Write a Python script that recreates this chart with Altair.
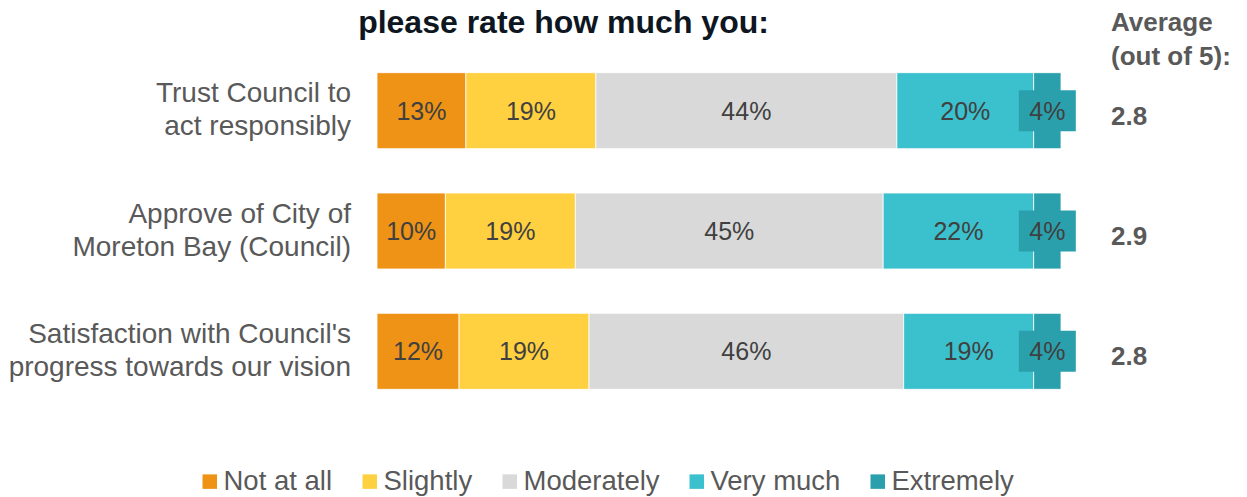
import altair as alt
import pandas as pd

# ---- data ----
categories = [
    "Trust Council to\nact responsibly",
    "Approve of City of\nMoreton Bay (Council)",
    "Satisfaction with Council's\nprogress towards our vision",
]
responses = ["Not at all", "Slightly", "Moderately", "Very much", "Extremely"]
colors = ["#EE9316", "#FFD03F", "#D9D9D9", "#3BC1CD", "#2AA0AC"]

not_at_all = [13, 10, 12]
slightly = [19, 19, 19]
moderately = [44, 45, 46]
very_much = [20, 22, 19]
extremely = [4, 4, 4]
averages = [2.8, 2.9, 2.8]

title_text = "please rate how much you:"
avg_header = "Average\n(out of 5):"

series = [not_at_all, slightly, moderately, very_much, extremely]
rows = []
for ci, cat in enumerate(categories):
    for ri, resp in enumerate(responses):
        rows.append({"cat": cat, "resp": resp, "idx": ri, "pct": series[ri][ci]})
df = pd.DataFrame(rows)
cat_df = pd.DataFrame({"cat": categories, "avg": averages})

FONT = "Liberation Sans"

x_scale = alt.Scale(domain=[0, 100])
y_enc = alt.Y("cat:N", sort=categories, axis=None,
              scale=alt.Scale(paddingInner=0.3684, paddingOuter=0.1842))

bars = alt.Chart(df).mark_bar(stroke="white", strokeWidth=0.8).encode(
    x=alt.X("pct:Q", stack="zero", scale=x_scale, axis=None),
    y=y_enc,
    color=alt.Color(
        "resp:N",
        scale=alt.Scale(domain=responses, range=colors),
        sort=responses,
        legend=alt.Legend(
            orient="none", legendX=-181, legendY=417, direction="horizontal",
            title=None, symbolType="square", symbolSize=210,
            symbolStrokeWidth=0, labelFontSize=27.5, labelColor="#595959",
            labelFont=FONT, labelOffset=0, columnPadding=23, padding=0,
            labelLimit=400,
        ),
    ),
    order=alt.Order("idx:Q"),
)

stacked = alt.Chart(df).transform_stack(
    stack="pct", groupby=["cat"], as_=["x0", "x1"], sort=[alt.SortField("idx")]
).transform_calculate(mid="(datum.x0 + datum.x1) / 2")

box = stacked.transform_filter(alt.datum.resp == "Extremely").mark_point(
    shape="M-1,-0.72L1,-0.72L1,0.72L-1,0.72Z", filled=True, size=3249,
    color="#2AA0AC", opacity=1, strokeWidth=0,
).encode(x=alt.X("mid:Q", scale=x_scale, axis=None), y=y_enc)

bar_labels = stacked.mark_text(
    font=FONT, fontSize=25, color="#404040", baseline="middle", align="center", dy=1,
).encode(
    x=alt.X("mid:Q", scale=x_scale, axis=None),
    y=y_enc,
    text=alt.Text("label:N"),
).transform_calculate(label="datum.pct + '%'")

cat_labels = alt.Chart(cat_df).mark_text(
    font=FONT, fontSize=28, color="#595959", align="right", baseline="middle",
    lineBreak="\n", lineHeight=33, dy=-16.5,
).encode(y=y_enc, x=alt.value(-26), text="cat:N")

avg_labels = alt.Chart(cat_df).mark_text(
    font=FONT, fontSize=26, fontWeight="bold", color="#595959", align="left",
    baseline="middle", dy=6,
).encode(y=y_enc, x=alt.value(734), text=alt.Text("avg:Q", format=".1f"))

header = alt.Chart(pd.DataFrame({"t": [avg_header]})).mark_text(
    font=FONT, fontSize=26, fontWeight="bold", color="#595959", align="left",
    baseline="middle", lineBreak="\n", lineHeight=34,
).encode(x=alt.value(734), y=alt.value(-28), text="t:N")

title = alt.Chart(pd.DataFrame({"t": [title_text]})).mark_text(
    font=FONT, fontSize=32, fontWeight="bold", color="#0E1621", align="center",
    baseline="alphabetic",
).encode(x=alt.value(186.5), y=alt.value(-17.5), text="t:N")

chart = alt.layer(bars, box, bar_labels, cat_labels, avg_labels, header, title).properties(
    width=684, height=361,
    autosize=alt.AutoSizeParams(type="none"),
    padding={"left": 369, "top": 42.5, "right": 178, "bottom": 85.5},
).configure_view(stroke=None)

chart.save("out.html", embed_options={"renderer": "svg", "actions": False})
